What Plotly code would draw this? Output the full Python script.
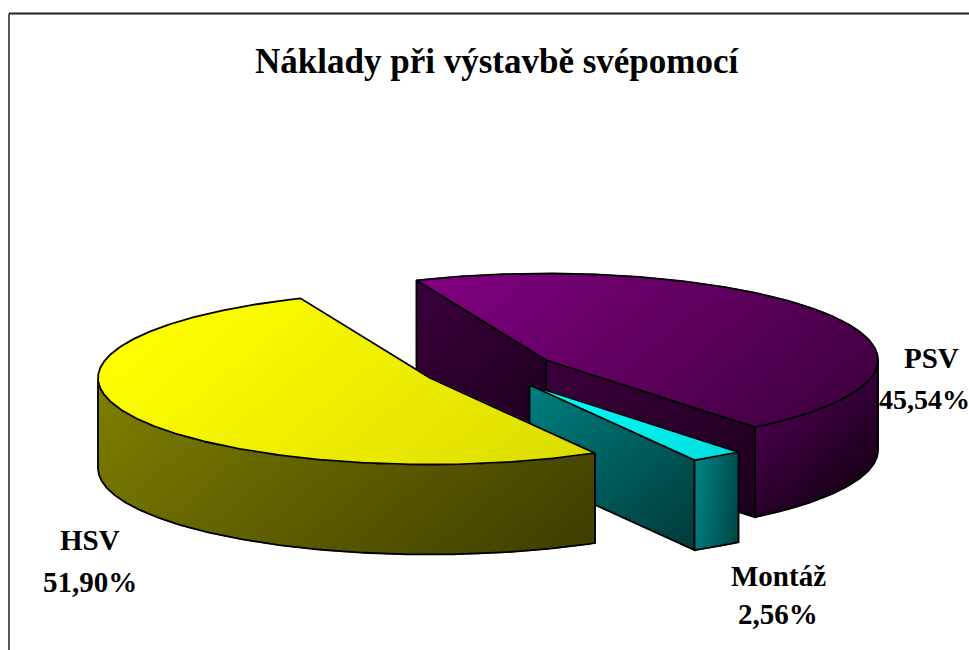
import math
import numpy as np
import plotly.graph_objects as go

# --- data ---
categories = ["HSV", "PSV", "Montáž"]
values = [51.90, 45.54, 2.56]
title_text = "Náklady při výstavbě svépomocí"

# --- geometry / style of the tilted, exploded pie (pixel-like axis units) ---
W, H = 969, 650
RX, RY, DEPTH = 332, 86.5, 90
START_DEG = 60.2
CENTERS = {"HSV": (430, 378), "PSV": (546, 360), "Montáž": (529.5, 385)}
GRAD_DIR = (1.0, 1.2)
STYLE = {
    "HSV": {"top": ("#ffff00", "#dcdc00"), "wall": ("#808000", "#3e3e00")},
    "PSV": {"top": ("#820082", "#420042"), "wall": ("#3c003c", "#1c001c"),
            "outer": ("#48004a", "#1a001a")},
    "Montáž": {"top": ("#00ffff", "#00dede"), "wall": ("#008080", "#003a3a"),
               "outer": ("#008686", "#004545")},
}
N_BANDS = 40


def hex2rgb(h):
    return np.array([int(h[i:i + 2], 16) for i in (1, 3, 5)], float)


def clip(poly, d, val, keep_ge):
    """Clip polygon against the half-plane dot(p, d) >= val (or <=)."""
    out = []
    n = len(poly)
    for i in range(n):
        a, b = poly[i], poly[(i + 1) % n]
        ua, ub = a[0] * d[0] + a[1] * d[1], b[0] * d[0] + b[1] * d[1]
        ina = ua >= val if keep_ge else ua <= val
        inb = ub >= val if keep_ge else ub <= val
        if ina:
            out.append(a)
        if ina != inb:
            f = (val - ua) / (ub - ua)
            out.append((a[0] + f * (b[0] - a[0]), a[1] + f * (b[1] - a[1])))
    return out


def face(fig, poly, colors, d=GRAD_DIR):
    us = [p[0] * d[0] + p[1] * d[1] for p in poly]
    lo, hi = min(us), max(us)
    c0, c1 = hex2rgb(colors[0]), hex2rgb(colors[1])
    for k in range(N_BANDS):
        u0 = lo + (hi - lo) * k / N_BANDS
        u1 = lo + (hi - lo) * (k + 1) / N_BANDS
        part = clip(clip(poly, d, u0, True), d, u1, False)
        if len(part) < 3:
            continue
        c = c0 + (c1 - c0) * (k + 0.5) / N_BANDS
        col = f"rgb({c[0]:.0f},{c[1]:.0f},{c[2]:.0f})"
        fig.add_trace(go.Scatter(
            x=[p[0] for p in part] + [part[0][0]],
            y=[p[1] for p in part] + [part[0][1]],
            mode="lines", fill="toself", fillcolor=col,
            line=dict(color=col, width=1.2),
            hoverinfo="skip", showlegend=False))
    fig.add_trace(go.Scatter(
        x=[p[0] for p in poly] + [poly[0][0]],
        y=[p[1] for p in poly] + [poly[0][1]],
        mode="lines", line=dict(color="#000000", width=1.8),
        hoverinfo="skip", showlegend=False))


def pt(c, deg, dz=0):
    t = math.radians(deg)
    return (c[0] + RX * math.cos(t), c[1] + RY * math.sin(t) + dz)


def arc(c, a, b, dz=0):
    n = max(2, int(abs(b - a)) * 2)
    return [pt(c, a + (b - a) * i / n, dz) for i in range(n + 1)]


def curved_wall(c, a, b):
    return arc(c, a, b) + arc(c, b, a, DEPTH)


def flat_wall(c, deg):
    p = pt(c, deg)
    return [c, p, (p[0], p[1] + DEPTH), (c[0], c[1] + DEPTH)]


# slice angles follow directly from the values
angles = {}
cur = START_DEG
for name, v in zip(categories, values):
    angles[name] = (cur, cur + v / sum(values) * 360)
    cur = angles[name][1]

fig = go.Figure()

# PSV (back)
c = CENTERS["PSV"]
a, b = angles["PSV"]
s = STYLE["PSV"]
face(fig, flat_wall(c, a), s["wall"])
face(fig, flat_wall(c, b), s["wall"])
face(fig, curved_wall(c, 360, b), s["outer"])
face(fig, [c] + arc(c, a, b), s["top"])

# Montáž (middle)
c = CENTERS["Montáž"]
a, b = angles["Montáž"]
s = STYLE["Montáž"]
face(fig, flat_wall(c, b), s["wall"])
face(fig, curved_wall(c, a, b), s["outer"], d=(1.0, 0.1))
face(fig, [c] + arc(c, a, b), s["top"])

# HSV (front)
c = CENTERS["HSV"]
a, b = angles["HSV"]
s = STYLE["HSV"]
face(fig, curved_wall(c, a, 180), s["wall"])
face(fig, [c] + arc(c, a, b), s["top"])

# --- text ---
FONT = "Liberation Serif"
LABEL_POS = {"HSV": (90, 540, 582), "PSV": (931, 358, 399), "Montáž": (778, 576, 614)}
annotations = [dict(x=497, y=61, text=f"<b>{title_text}</b>", showarrow=False,
                    xref="x", yref="y", font=dict(family=FONT, size=35, color="black"))]
for name, v in zip(categories, values):
    x, y1, y2 = LABEL_POS[name]
    pct = f"{v:.2f}".replace(".", ",") + "%"
    annotations.append(dict(x=x, y=y1, text=f"<b>{name}</b>", showarrow=False,
                            font=dict(family=FONT, size=29, color="black")))
    if name == "PSV":
        annotations.append(dict(x=924, y=y2, text=f"<b>{pct}</b>", showarrow=False,
                                font=dict(family=FONT, size=28, color="black")))
    else:
        annotations.append(dict(x=x, y=y2, text=f"<b>{pct}</b>", showarrow=False,
                                font=dict(family=FONT, size=29, color="black")))

shapes = [dict(type="line", x0=9, y0=13.5, x1=W, y1=13.5, line=dict(color="#222222", width=2)),
          dict(type="line", x0=9, y0=13.5, x1=9, y1=H, line=dict(color="#222222", width=1.5))]

fig.update_layout(
    width=W, height=H, margin=dict(l=0, r=0, t=0, b=0),
    paper_bgcolor="white", plot_bgcolor="white", showlegend=False,
    xaxis=dict(range=[0, W], visible=False, fixedrange=True),
    yaxis=dict(range=[H, 0], visible=False, fixedrange=True),
    annotations=annotations, shapes=shapes,
)
fig.write_html("out.html", config={"displayModeBar": False},
               post_script="document.body.style.margin='0';document.body.style.overflow='hidden';")
